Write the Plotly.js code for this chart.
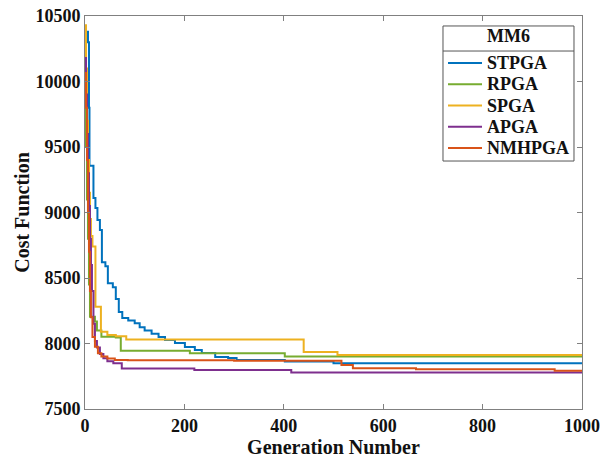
<!DOCTYPE html>
<html>
<head>
<meta charset="utf-8">
<script src="https://cdn.plot.ly/plotly-3.0.1.min.js"></script>
<style>
  html, body { margin: 0; padding: 0; background: #fff; }
  #chart { width: 604px; height: 458px; }
</style>
</head>
<body>
<div id="chart"></div>
<script>
// Best cost per generation for each GA variant on benchmark MM6 (step curves)
const seriesNames = ["STPGA", "RPGA", "SPGA", "APGA", "NMHPGA"];
const seriesColors = ["#0072BD", "#77AC30", "#EDB120", "#7E2F8E", "#D95319"];
const legendTitle = "MM6";

const stpgaGen = [0, 6, 8, 9, 17, 21, 25, 30, 34, 41, 46, 56, 62, 68, 75, 87, 100, 110, 120, 134, 148, 161, 181, 201, 221, 235, 262, 288, 305, 402, 500, 1000];
const stpgaCost = [10380, 10300, 9800, 9357, 9111, 9034, 8943, 8866, 8620, 8590, 8460, 8430, 8340, 8240, 8195, 8175, 8155, 8125, 8100, 8075, 8050, 8027, 8003, 7973, 7950, 7927, 7897, 7890, 7874, 7862, 7850, 7850];

const rpgaGen = [0, 2, 4, 6, 8, 10, 20, 24, 33, 62, 72, 211, 402, 1000];
const rpgaCost = [9900, 9500, 9100, 8800, 8450, 8205, 8167, 8100, 8052, 8045, 7945, 7925, 7900, 7900];

const spgaGen = [0, 2, 4, 6, 8, 10, 12, 15, 21, 32, 45, 62, 83, 440, 508, 1000];
const spgaCost = [10430, 10100, 9700, 9400, 9150, 8950, 8820, 8740, 8281, 8090, 8065, 8055, 8030, 7935, 7912, 7912];

const apgaGen = [0, 2, 4, 6, 8, 10, 12, 14, 17, 20, 24, 30, 37, 45, 57, 74, 220, 415, 1000];
const apgaCost = [10180, 9900, 9600, 9300, 9050, 8800, 8600, 8400, 8150, 8020, 7970, 7920, 7887, 7865, 7849, 7810, 7798, 7778, 7778];

const nmhpgaGen = [0, 2, 4, 6, 8, 10, 12, 15, 20, 26, 33, 45, 60, 86, 300, 516, 539, 666, 945, 1000];
const nmhpgaCost = [10065, 9800, 9400, 9000, 8700, 8400, 8200, 8050, 7976, 7925, 7900, 7885, 7875, 7872, 7868, 7836, 7811, 7803, 7792, 7792];

const xTicks = [0, 200, 400, 600, 800, 1000];
const yTicks = [7500, 8000, 8500, 9000, 9500, 10000, 10500];

const gens = [stpgaGen, rpgaGen, spgaGen, apgaGen, nmhpgaGen];
const costs = [stpgaCost, rpgaCost, spgaCost, apgaCost, nmhpgaCost];

const serif = "'Liberation Serif', 'Times New Roman', serif";
const ink = "#111";

const traces = seriesNames.map((name, i) => ({
  type: "scatter",
  mode: "lines",
  name: name,
  x: gens[i],
  y: costs[i],
  line: { color: seriesColors[i], width: 2, shape: "hv" },
  showlegend: false
}));

const axisCommon = {
  showgrid: false,
  zeroline: false,
  showline: true,
  linecolor: "#808080",
  linewidth: 1,
  mirror: "ticks",
  ticks: "inside",
  ticklen: 5,
  tickcolor: "#808080",
  tickfont: { family: serif, size: 18, color: ink, weight: "bold" }
};

// Boxed legend in the upper-right corner of the axes (paper coordinates)
const box = { x0: 0.7203, x1: 0.9839, y0: 0.6310, y1: 0.9746 };
const titleRuleY = 0.9109;
const titleY = 0.9491;
const sampleX0 = 0.7304, sampleX1 = 0.7988, labelX = 0.8048;
const rowTop = 0.8804, rowStep = 0.0541;

const shapes = [
  { type: "rect", xref: "paper", yref: "paper", x0: box.x0, x1: box.x1, y0: box.y0, y1: box.y1,
    line: { color: "#555", width: 1 }, fillcolor: "rgba(255,255,255,1)", layer: "above" },
  { type: "line", xref: "paper", yref: "paper", x0: box.x0, x1: box.x1, y0: titleRuleY, y1: titleRuleY,
    line: { color: "#555", width: 1 }, layer: "above" }
];
const annotations = [
  { xref: "paper", yref: "paper", x: (box.x0 + box.x1) / 2, y: titleY, text: legendTitle,
    showarrow: false, xanchor: "center", yanchor: "middle",
    font: { family: serif, size: 18, color: ink, weight: "bold" } }
];
seriesNames.forEach((name, i) => {
  const y = rowTop - i * rowStep;
  shapes.push({ type: "line", xref: "paper", yref: "paper", x0: sampleX0, x1: sampleX1, y0: y, y1: y,
    line: { color: seriesColors[i], width: 2 }, layer: "above" });
  annotations.push({ xref: "paper", yref: "paper", x: labelX, y: y, text: name, showarrow: false,
    xanchor: "left", yanchor: "middle", font: { family: serif, size: 18, color: ink, weight: "bold" } });
});

const layout = {
  width: 604,
  height: 458,
  margin: { l: 85, r: 22, t: 16, b: 49 },
  paper_bgcolor: "#fff",
  plot_bgcolor: "#fff",
  showlegend: false,
  xaxis: Object.assign({}, axisCommon, {
    range: [0, 1000],
    tickvals: xTicks,
    ticktext: xTicks.map(String),
    title: { text: "Generation Number", font: { family: serif, size: 20, color: ink, weight: "bold" }, standoff: 2 }
  }),
  yaxis: Object.assign({}, axisCommon, {
    range: [7500, 10500],
    tickvals: yTicks,
    ticktext: yTicks.map(String),
    title: { text: "Cost Function", font: { family: serif, size: 20, color: ink, weight: "bold" }, standoff: 0 }
  }),
  shapes: shapes,
  annotations: annotations
};

Plotly.newPlot("chart", traces, layout, { displayModeBar: false, staticPlot: true });
</script>
</body>
</html>
